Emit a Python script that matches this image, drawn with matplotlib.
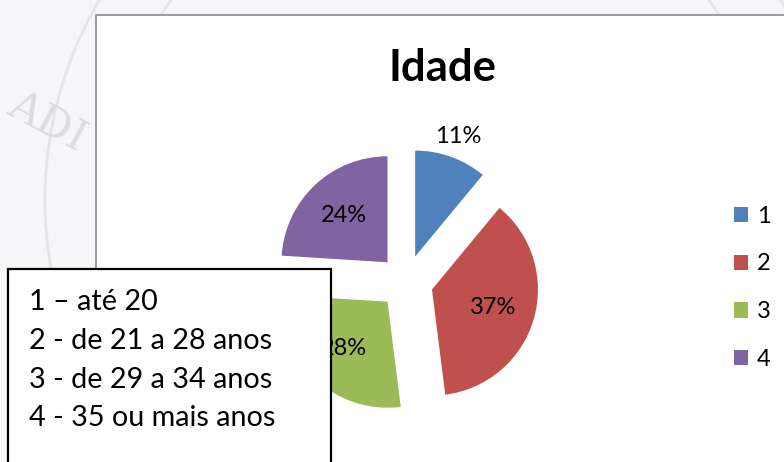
import matplotlib
matplotlib.use("Agg")
import matplotlib.pyplot as plt
from matplotlib.patches import Rectangle, Arc
import numpy as np

plt.rcParams['font.family'] = ['Lato', 'DejaVu Sans']

# ---- data ----
title = "Idade"
categories = ["1", "2", "3", "4"]
values = [11, 37, 28, 24]
colors = ["#4f81bd", "#c0504d", "#9bbb59", "#8064a2"]
box_lines = ["1 \u2013 até 20", "2 - de 21 a 28 anos", "3 - de 29 a 34 anos", "4 - 35 ou mais anos"]

W, H = 784, 462
fig = plt.figure(figsize=(W / 100, H / 100), dpi=100, facecolor="#f6f5f7")

# background / decoration axes in pixel coords
bg = fig.add_axes([0, 0, 1, 1], zorder=0)
bg.set_xlim(0, W)
bg.set_ylim(H, 0)
bg.axis("off")

# faint watermark
for r in (335, 395):
    bg.add_patch(Arc((440, 200), 2 * r, 2 * r, theta1=0, theta2=360,
                     color="#e5e4e8", lw=2.0, zorder=0))
bg.text(47, 122, "ADI", fontsize=31, color="#dddce0", rotation=-28,
        family="DejaVu Serif", ha="center", va="center", zorder=2)

# chart frame
bg.add_patch(Rectangle((96, 15), 720, 480, facecolor="white",
                       edgecolor="#8c8c8c", lw=1.2, zorder=1))

# title
bg.text(443, 68, title, fontsize=31.5, fontweight="bold", ha="center",
        va="center", zorder=3)

# pie axes
cx, cy, R = 406, 282, 106
half = 160
ax = fig.add_axes([(cx - half) / W, (H - cy - half) / H, 2 * half / W, 2 * half / H],
                  zorder=1)
ax.patch.set_visible(False)
ex = 0.255
wedges, texts, autotexts = ax.pie(
    values, colors=colors, startangle=90, counterclock=False,
    explode=[ex] * len(values), autopct="%1.0f%%", pctdistance=0.6,
    wedgeprops=dict(linewidth=0), textprops=dict(fontsize=17))
lim = half / R
ax.set_xlim(-lim, lim)
ax.set_ylim(-lim, lim)
ax.set_aspect("equal")
ax.axis("off")

# 11% label sits outside its slice
th = np.deg2rad(90 - values[0] / sum(values) * 360 / 2)
autotexts[0].set_position(((ex + 1.2) * np.cos(th), (ex + 1.2) * np.sin(th)))

# legend
leg = fig.legend(wedges, categories, loc="upper left",
                 bbox_to_anchor=(722 / W, 1 - 194 / H), frameon=False,
                 fontsize=17, handlelength=0.62, handleheight=0.62,
                 handletextpad=0.35, labelspacing=1.13, borderpad=0)

# overlay text box (on top of the pie)
fg = fig.add_axes([0, 0, 1, 1], zorder=2)
fg.set_xlim(0, W)
fg.set_ylim(H, 0)
fg.axis("off")
fg.add_patch(Rectangle((8, 269), 323, 220, facecolor="white",
                       edgecolor="black", lw=1.6, zorder=5))
ys = [302, 341, 380, 418]
for y, s in zip(ys, box_lines):
    fg.text(29, y, s, fontsize=20.7, ha="left", va="center", zorder=6)

fig.savefig("out.png", dpi=100, facecolor=fig.get_facecolor())
